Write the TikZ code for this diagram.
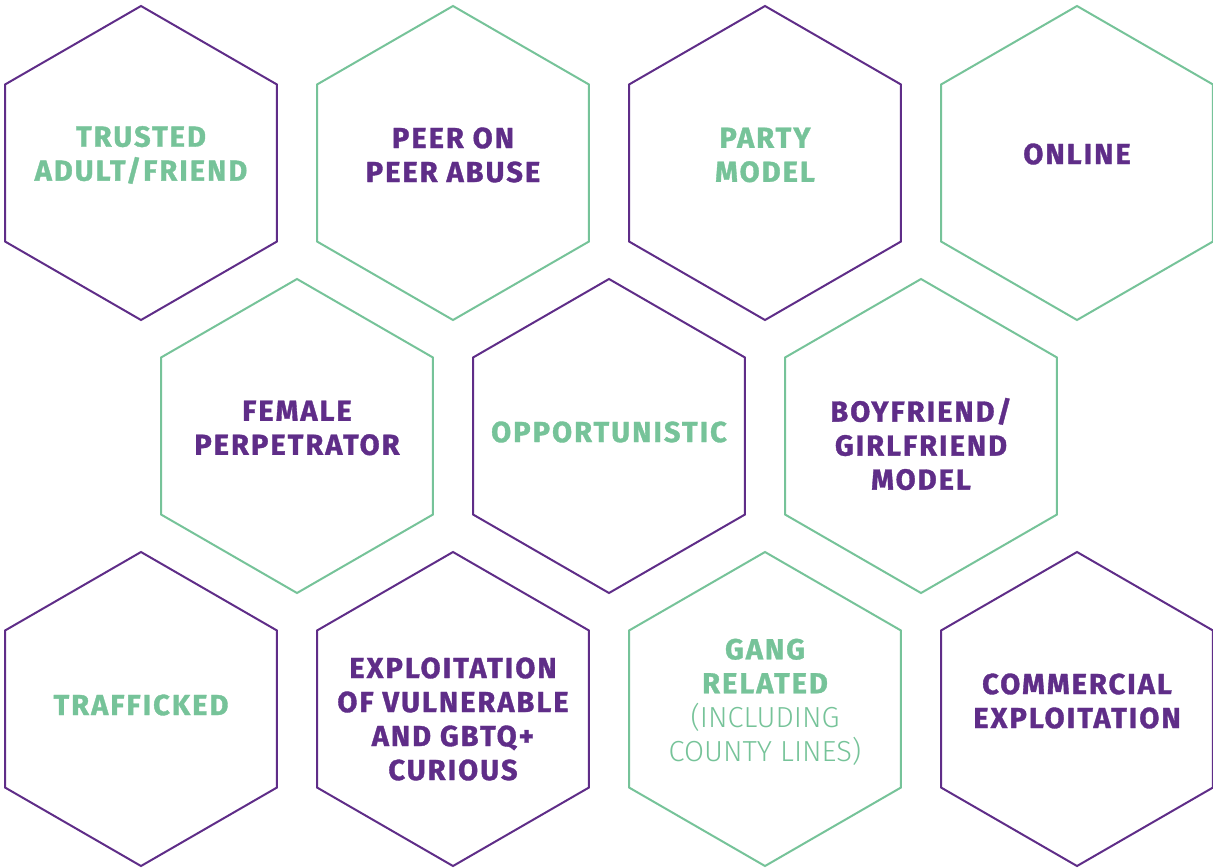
\documentclass[tikz,border=0pt]{standalone}
\usepackage{fontspec}
\setmainfont{Fira Sans}[BoldFeatures={FakeBold=1.2, LetterSpace=7}]
\newfontfamily\thinfont{Fira Sans Light}
\usetikzlibrary{shapes.geometric}
\definecolor{hexpurple}{HTML}{5F2D88}
\definecolor{hexgreen}{HTML}{76C399}
\tikzset{
	hex/.style={draw=#1, line width=1pt, regular polygon, regular polygon sides=6,
		shape border rotate=30, minimum size=157pt, inner sep=0pt, outer sep=0pt},
	hextext/.style={text=#1, font=\bfseries\fontsize{14.5}{17}\selectfont,
		align=center, inner sep=0pt}
}
\newcommand{\thinline}[1]{{\mdseries\thinfont #1}}

\begin{document}
\begin{tikzpicture}[x=0.5pt, y=-0.5pt]
			%%%%% START %%%%%
			\useasboundingbox (0, 0) rectangle (1213, 867);
			
			% top row
			\node[hex=hexpurple] (h1) at (141, 163) {};
			\node[hextext=hexgreen] (t1) at (141, 155) {TRUSTED\\ADULT/FRIEND};
			
			\node[hex=hexgreen] (h2) at (453, 163) {};
			\node[hextext=hexpurple] (t2) at (453, 155) {PEER ON\\PEER ABUSE};
			
			\node[hex=hexpurple] (h3) at (765, 163) {};
			\node[hextext=hexgreen] (t3) at (765, 155) {PARTY\\MODEL};
			
			\node[hex=hexgreen] (h4) at (1077, 163) {};
			\node[hextext=hexpurple] (t4) at (1077, 154) {ONLINE};
			
			% middle row
			\node[hex=hexgreen] (h5) at (297, 436) {};
			\node[hextext=hexpurple] (t5) at (297, 428) {FEMALE\\PERPETRATOR};
			
			\node[hex=hexpurple] (h6) at (609, 436) {};
			\node[hextext=hexgreen] (t6) at (609, 432) {OPPORTUNISTIC};
			
			\node[hex=hexgreen] (h7) at (921, 436) {};
			\node[hextext=hexpurple] (t7) at (921, 444) {BOYFRIEND/\\GIRLFRIEND\\MODEL};
			
			% bottom row
			\node[hex=hexpurple] (h8) at (141, 709) {};
			\node[hextext=hexgreen] (t8) at (141, 705) {TRAFFICKED};
			
			\node[hex=hexpurple] (h9) at (453, 709) {};
			\node[hextext=hexpurple] (t9) at (453, 719) {EXPLOITATION\\OF VULNERABLE\\AND GBTQ+\\CURIOUS};
			
			\node[hex=hexgreen] (h10) at (765, 709) {};
			\node[hextext=hexgreen] (t10) at (765, 702) {GANG\\RELATED\\\thinline{(INCLUDING}\\\thinline{COUNTY LINES)}};
			
			\node[hex=hexpurple] (h11) at (1077, 709) {};
			\node[hextext=hexpurple] (t11) at (1077, 701) {COMMERCIAL\\EXPLOITATION};
			
			%%%%% END %%%%%
\end{tikzpicture}
\end{document}
